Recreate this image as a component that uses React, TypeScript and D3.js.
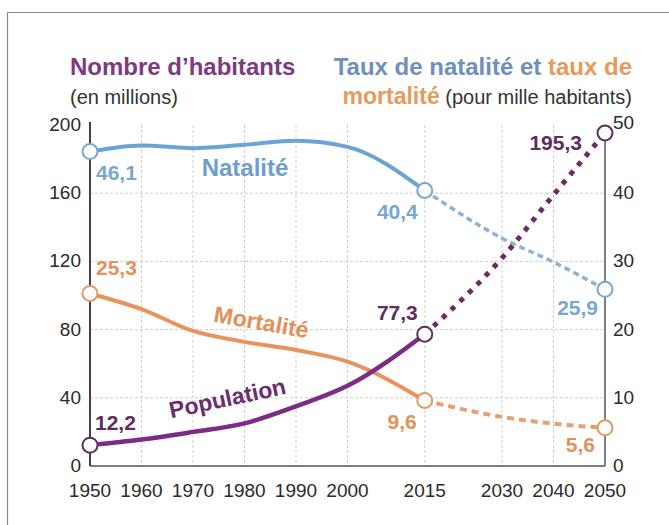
import * as d3 from "d3";

// years with observed values
const years = [1950, 1960, 1970, 1980, 1990, 2000, 2015];
// projection years
const projYears = [2015, 2030, 2040, 2050];
const xTicks = [1950, 1960, 1970, 1980, 1990, 2000, 2015, 2030, 2040, 2050];
const leftTicks = [0, 40, 80, 120, 160, 200];
const rightTicks = [0, 10, 20, 30, 40, 50];

// population, millions (left axis)
const population = [12.2, 15.5, 20, 25, 35, 47, 77.3];
const populationProj = [77.3, 122, 159, 195.3];
// birth rate / death rate, per mille (right axis)
const natalite = [46.1, 47.0, 46.6, 47.1, 47.7, 46.8, 40.4];
const nataliteProj = [40.4, 33.4, 29.9, 25.9];
const mortalite = [25.3, 23.0, 19.8, 18.2, 17.0, 15.3, 9.6];
const mortaliteProj = [9.6, 7.2, 6.2, 5.6];

const W = 669;
const H = 525;
const margin = { left: 90, right: 64, top: 125, bottom: 59 };
const FONT = "'Liberation Sans', Arial, sans-serif";

const PURPLE = "#7b2d86";
const PURPLE_DARK = "#5e2d5e";
const BLUE = "#6aa4d4";
const BLUE_LIGHT = "#8db3d3";
const BLUE_TEXT = "#7aa7cd";
const ORANGE = "#e8935e";
const ORANGE_TEXT = "#e0935a";

const fmt = (v: number) => String(v).replace(".", ",");

export default function App() {
  const x = d3.scaleLinear().domain([1950, 2050]).range([margin.left, W - margin.right]);
  const yL = d3.scaleLinear().domain([0, 200]).range([H - margin.bottom, margin.top]);
  const yR = d3.scaleLinear().domain([0, 50]).range([H - margin.bottom, margin.top]);
  const x0 = x.range()[0];
  const x1 = x.range()[1];
  const yb = yL.range()[0];
  const yt = yL.range()[1];

  const lineL = d3
    .line<[number, number]>()
    .x((d) => x(d[0]))
    .y((d) => yL(d[1]))
    .curve(d3.curveMonotoneX);
  const lineR = d3
    .line<[number, number]>()
    .x((d) => x(d[0]))
    .y((d) => yR(d[1]))
    .curve(d3.curveMonotoneX);

  const zip = (xs: number[], vs: number[]) => xs.map((y, i) => [y, vs[i]] as [number, number]);

  const last = years.length - 1;
  const pLast = projYears.length - 1;

  const marker = (cx: number, cy: number, stroke: string, key: string) => (
    <circle key={key} cx={cx} cy={cy} r={7.5} fill="#fdfdfd" stroke={stroke} strokeWidth={2} />
  );

  const valLabel = (
    px: number,
    py: number,
    text: string,
    color: string,
    anchor: string
  ) => (
    <text
      x={px}
      y={py}
      fill={color}
      fontSize={21}
      fontWeight="bold"
      textAnchor={anchor}
      fontFamily={FONT}
    >
      {text}
    </text>
  );

  return (
    <svg
      width={W}
      height={H}
      style={{ position: "absolute", left: 0, top: 0, background: "#fff" }}
      fontFamily={FONT}
    >
      {/* frame */}
      <line x1={7} x2={W} y1={12.5} y2={12.5} stroke="#8a8a8a" strokeWidth={1.2} />
      <line x1={7.5} x2={7.5} y1={12} y2={H} stroke="#8a8a8a" strokeWidth={1.2} />

      {/* titles */}
      <text x={70} y={75} fontSize={24} fontWeight="bold" fill="#7d3a80">
        Nombre d’habitants
      </text>
      <text x={70} y={104} fontSize={20} fill="#333">
        (en millions)
      </text>
      <text x={632} y={75} fontSize={24} fontWeight="bold" textAnchor="end">
        <tspan fill="#6f8fbd">Taux de natalité et </tspan>
        <tspan fill="#e69a5c">taux de</tspan>
      </text>
      <text x={632} y={104} fontSize={20} textAnchor="end">
        <tspan fill="#e69a5c" fontWeight="bold" fontSize={23}>mortalité</tspan>
        <tspan fill="#333"> (pour mille habitants)</tspan>
      </text>

      {/* grid */}
      {leftTicks
        .filter((t) => t > 0 && t < 200)
        .map((t) => (
          <line
            key={"h" + t}
            x1={x0}
            x2={x1}
            y1={yL(t)}
            y2={yL(t)}
            stroke="#cfcfcf"
            strokeWidth={1}
            strokeDasharray="3,2"
          />
        ))}
      {xTicks
        .filter((t) => t > 1950 && t < 2050)
        .map((t) => (
          <line
            key={"v" + t}
            x1={x(t)}
            x2={x(t)}
            y1={yt}
            y2={yb}
            stroke="#cfcfcf"
            strokeWidth={1}
            strokeDasharray="3,2"
          />
        ))}

      {/* axes */}
      <line x1={x0} x2={x1} y1={yb} y2={yb} stroke="#555" strokeWidth={1.5} />
      <line x1={x0} x2={x0} y1={yt - 3} y2={yb} stroke="#4b3b4b" strokeWidth={2} />
      <line x1={x1} x2={x1} y1={yt} y2={yb} stroke="#555" strokeWidth={1.5} />

      {leftTicks.map((t) => (
        <text key={"l" + t} x={x0 - 9} y={yL(t) + 6} fontSize={19} fill="#2a2a2a" textAnchor="end">
          {t}
        </text>
      ))}
      {rightTicks.map((t) => (
        <text key={"r" + t} x={x1 + 8} y={yR(t) + (t === 50 ? 4 : 6)} fontSize={19} fill="#2a2a2a">
          {t}
        </text>
      ))}
      {xTicks.map((t) => (
        <text key={"x" + t} x={x(t)} y={yb + 31} fontSize={19} fill="#2a2a2a" textAnchor="middle">
          {t}
        </text>
      ))}

      {/* projections */}
      <path
        d={lineR(zip(projYears, nataliteProj)) || ""}
        fill="none"
        stroke={BLUE_LIGHT}
        strokeWidth={3.5}
        strokeDasharray="6,4"
      />
      <path
        d={lineR(zip(projYears, mortaliteProj)) || ""}
        fill="none"
        stroke="#e4a172"
        strokeWidth={4}
        strokeDasharray="7,5"
      />
      <path
        d={lineL(zip(projYears, populationProj)) || ""}
        fill="none"
        stroke="#6a2c62"
        strokeWidth={5}
        strokeDasharray="5,7"
      />

      {/* observed series */}
      <path d={lineR(zip(years, natalite)) || ""} fill="none" stroke={BLUE} strokeWidth={4} />
      <path d={lineR(zip(years, mortalite)) || ""} fill="none" stroke={ORANGE} strokeWidth={4} />
      <path d={lineL(zip(years, population)) || ""} fill="none" stroke={PURPLE} strokeWidth={4.5} />

      {/* markers */}
      {marker(x(years[0]), yR(natalite[0]), "#7aa7cf", "n0")}
      {marker(x(years[last]), yR(natalite[last]), "#7aa7cf", "n1")}
      {marker(x(projYears[pLast]), yR(nataliteProj[pLast]), "#7aa7cf", "n2")}
      {marker(x(years[0]), yR(mortalite[0]), "#e29a62", "m0")}
      {marker(x(years[last]), yR(mortalite[last]), "#e29a62", "m1")}
      {marker(x(projYears[pLast]), yR(mortaliteProj[pLast]), "#e29a62", "m2")}
      {marker(x(years[0]), yL(population[0]), PURPLE_DARK, "p0")}
      {marker(x(years[last]), yL(population[last]), PURPLE_DARK, "p1")}
      {marker(x(projYears[pLast]), yL(populationProj[pLast]), PURPLE_DARK, "p2")}

      {/* value labels */}
      {valLabel(x(years[0]) + 6, yR(natalite[0]) + 28, fmt(natalite[0]), BLUE_TEXT, "start")}
      {valLabel(x(years[last]) - 7, yR(natalite[last]) + 29, fmt(natalite[last]), BLUE_TEXT, "end")}
      {valLabel(x(projYears[pLast]) - 7, yR(nataliteProj[pLast]) + 26, fmt(nataliteProj[pLast]), BLUE_TEXT, "end")}
      {valLabel(x(years[0]) + 6, yR(mortalite[0]) - 18, fmt(mortalite[0]), ORANGE_TEXT, "start")}
      {valLabel(x(years[last]) - 8, yR(mortalite[last]) + 28, fmt(mortalite[last]), ORANGE_TEXT, "end")}
      {valLabel(x(projYears[pLast]) - 10, yR(mortaliteProj[pLast]) + 24, fmt(mortaliteProj[pLast]), ORANGE_TEXT, "end")}
      {valLabel(x(years[0]) + 5, yL(population[0]) - 15, fmt(population[0]), PURPLE_DARK, "start")}
      {valLabel(x(years[last]) - 7, yL(population[last]) - 14, fmt(population[last]), PURPLE_DARK, "end")}
      {valLabel(x(projYears[pLast]) - 23, yL(populationProj[pLast]) + 17, fmt(populationProj[pLast]), PURPLE_DARK, "end")}

      {/* series names */}
      <text x={245} y={176} fontSize={24} fontWeight="bold" fill="#6e9fcb" textAnchor="middle">
        Natalité
      </text>
      <text
        transform="translate(260,330) rotate(10)"
        fontSize={23}
        fontWeight="bold"
        fill="#e38f57"
        textAnchor="middle"
      >
        Mortalité
      </text>
      <text
        transform="translate(229,406) rotate(-12)"
        fontSize={23}
        fontWeight="bold"
        fill="#6c2d6e"
        textAnchor="middle"
      >
        Population
      </text>
    </svg>
  );
}
